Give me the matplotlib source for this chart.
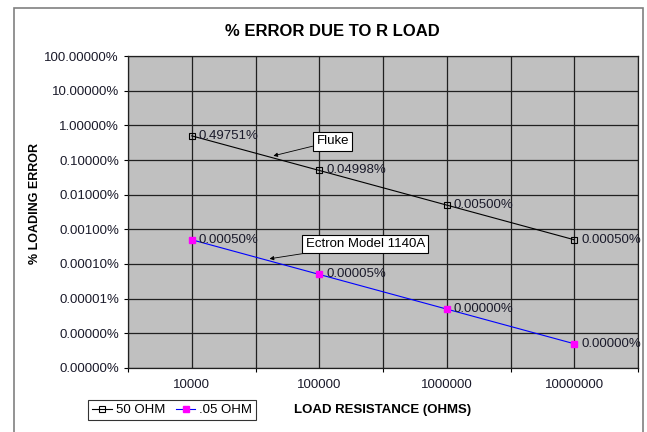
import matplotlib
matplotlib.use("Agg")
import matplotlib.pyplot as plt
from matplotlib.patches import Rectangle
from matplotlib.ticker import FixedLocator, FuncFormatter, NullFormatter

# ---------------- chart data ----------------
loads = ["10000", "100000", "1000000", "10000000"]      # load resistance, ohms
err_50ohm = [0.49751, 0.04998, 0.00500, 0.00050]          # % error, 50 ohm source
err_005ohm = [0.00050, 0.00005, 0.0000049999998, 0.0000005]  # % error, .05 ohm source
y_ticks = [1e2, 1e1, 1e0, 1e-1, 1e-2, 1e-3, 1e-4, 1e-5, 1e-6, 1e-7]

plt.rcParams["font.family"] = ["Liberation Sans", "DejaVu Sans"]
plt.rcParams["font.size"] = 9.5

fig = plt.figure(figsize=(6.47, 4.32), dpi=100)
ax = fig.add_axes([128 / 647, 1 - 368 / 432, (638 - 128) / 647, (368 - 56) / 432])

# outer chart frame (Excel style, bottom runs off the picture)
fig.patches.append(Rectangle((13.5 / 647, -0.1), (643 - 13.5) / 647, 1.1 - 8.5 / 432,
                             transform=fig.transFigure, fill=False,
                             edgecolor="#808080", lw=1.2))

x = list(range(len(loads)))
ax.set_facecolor("#C0C0C0")
l1, = ax.plot(x, err_50ohm, color="black", lw=0.8, marker="s", ms=4,
              mfc="none", mec="black", mew=0.8, label="50 OHM")
l2, = ax.plot(x, err_005ohm, color="#0000FF", lw=0.8, marker="s", ms=4.5,
              mfc="#FF00FF", mec="#FF00FF", label=".05 OHM")

# data labels
for xs, ys in ((x, err_50ohm), (x, err_005ohm)):
    for xi, yi in zip(xs, ys):
        ax.annotate(f"{yi:.5f}%", (xi, yi), xytext=(5, 0), textcoords="offset points",
                    va="center", ha="left", fontsize=9.5, color="#1a1a2a",
                    annotation_clip=False)

# call-out boxes
ax.annotate("Fluke", xy=(0.64, 10 ** -0.88), xytext=(1.105, 10 ** -0.46),
            ha="center", va="center", fontsize=9.5,
            bbox=dict(boxstyle="square,pad=0.25", fc="white", ec="black", lw=0.8),
            arrowprops=dict(arrowstyle="-|>", color="black", lw=0.6,
                            mutation_scale=6, shrinkA=0, shrinkB=0))
ax.annotate("Ectron Model 1140A", xy=(0.61, 10 ** -3.85), xytext=(1.36, 10 ** -3.42),
            ha="center", va="center", fontsize=9.5,
            bbox=dict(boxstyle="square,pad=0.25", fc="white", ec="black", lw=0.8),
            arrowprops=dict(arrowstyle="-|>", color="black", lw=0.6,
                            mutation_scale=6, shrinkA=0, shrinkB=0))

# axes
ax.set_yscale("log")
ax.set_ylim(1e-7, 1e2)
ax.set_xlim(-0.5, len(loads) - 0.5)
ax.yaxis.set_major_locator(FixedLocator(y_ticks))
ax.yaxis.set_minor_formatter(NullFormatter())
ax.yaxis.set_minor_locator(FixedLocator([]))
ax.yaxis.set_major_formatter(FuncFormatter(lambda v, p: f"{v:.5f}%"))
ax.set_xticks(x)
ax.set_xticklabels(loads)
ax.set_xticks([i - 0.5 for i in range(len(loads) + 1)], minor=True)
ax.tick_params(axis="both", which="both", direction="out", length=3, width=0.8,
               colors="black", labelcolor="#1a1a2a", labelsize=9.5)
ax.tick_params(axis="x", which="major", length=0, pad=8)
ax.grid(True, which="both", axis="x", color="#202020", lw=0.9)
ax.grid(True, which="major", axis="y", color="#202020", lw=0.9)
for s in ax.spines.values():
    s.set_color("#202020")
    s.set_linewidth(0.9)

fig.text(332 / 647, 1 - 31 / 432, "% ERROR DUE TO R LOAD", ha="center", va="center",
         fontsize=12, fontweight="bold")
fig.text(35 / 647, 1 - 203 / 432, "% LOADING ERROR", ha="center", va="center",
         rotation=90, fontsize=9, fontweight="bold")
fig.text(383 / 647, 1 - 410 / 432, "LOAD RESISTANCE (OHMS)", ha="center", va="center",
         fontsize=9.5, fontweight="bold")

leg = fig.legend(handles=[l1, l2], loc="center left", bbox_to_anchor=(88 / 647, 1 - 410 / 432),
                 ncol=2, fontsize=9.5, frameon=True, fancybox=False, handlelength=1.5,
                 handletextpad=0.3, columnspacing=0.8, borderpad=0.3,
                 borderaxespad=0)
leg.get_frame().set_edgecolor("black")
leg.get_frame().set_linewidth(0.8)

fig.savefig("out.png", dpi=100)
